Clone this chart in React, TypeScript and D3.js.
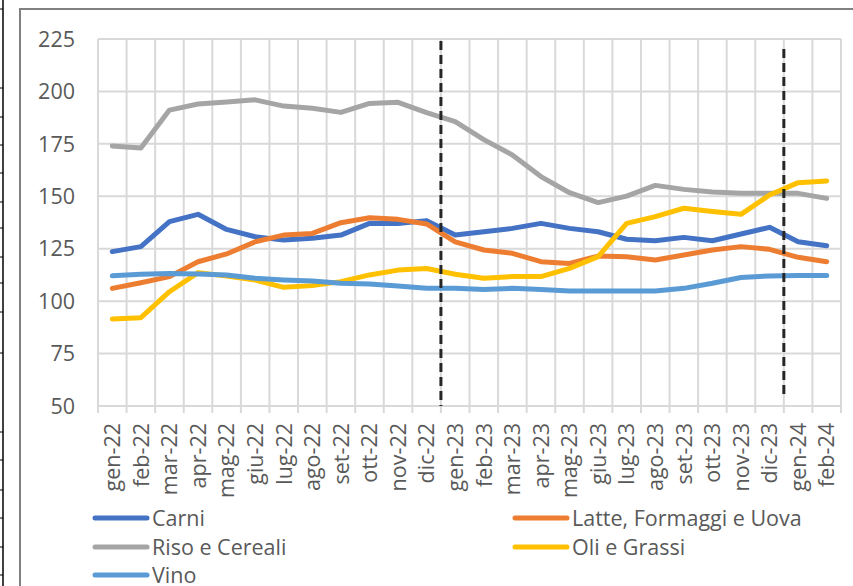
import { useEffect, useRef } from 'react'
import * as d3 from 'd3'

const months = [
  'gen-22', 'feb-22', 'mar-22', 'apr-22', 'mag-22', 'giu-22', 'lug-22', 'ago-22', 'set-22', 'ott-22', 'nov-22', 'dic-22',
  'gen-23', 'feb-23', 'mar-23', 'apr-23', 'mag-23', 'giu-23', 'lug-23', 'ago-23', 'set-23', 'ott-23', 'nov-23', 'dic-23',
  'gen-24', 'feb-24',
]

const carni = [123.6, 126, 137.9, 141.4, 134.2, 130.7, 129.1, 130, 131.5, 137.1, 137, 138.4, 131.5, 133.1, 134.7, 137.1, 134.7, 133.1, 129.5, 128.8, 130.4, 128.8, 132, 135.2, 128.3, 126.4]
const latte = [106.1, 108.8, 111.7, 118.8, 122.5, 128.3, 131.5, 132.3, 137.4, 139.8, 139, 136.8, 128.3, 124.4, 122.8, 118.8, 118, 121.5, 121.2, 119.6, 122, 124.4, 126, 124.7, 120.9, 118.8]
const riso = [174, 173, 191.1, 194, 195, 196, 193, 192, 190, 194.3, 194.8, 189.9, 185.6, 177, 169.7, 159.4, 151.7, 147, 150.1, 155.2, 153.3, 152, 151.4, 151.4, 151.4, 149]
const oli = [91.5, 92.1, 104.5, 113.6, 112, 110.1, 106.6, 107.4, 109.3, 112.5, 114.8, 115.6, 112.8, 110.9, 111.7, 111.7, 115.6, 121.2, 137.1, 140.3, 144.3, 142.7, 141.4, 150.6, 156.5, 157.3]
const vino = [112.1, 112.8, 113.2, 112.9, 112.5, 110.9, 110.1, 109.6, 108.5, 108.2, 107.2, 106.1, 106.1, 105.6, 106.1, 105.6, 104.8, 104.8, 104.8, 104.8, 106.1, 108.5, 111.3, 112, 112.2, 112.2]

const yTicks = [50, 75, 100, 125, 150, 175, 200, 225]
// dashed markers sit on the boundary after these months
const markerMonths = ['dic-22', 'dic-23']

const series = [
  { name: 'Carni', values: carni, color: '#4472C4' },
  { name: 'Latte, Formaggi e Uova', values: latte, color: '#ED7D31' },
  { name: 'Riso e Cereali', values: riso, color: '#A5A5A5' },
  { name: 'Oli e Grassi', values: oli, color: '#FFC000' },
  { name: 'Vino', values: vino, color: '#5B9BD5' },
]

const FONT = '"Open Sans", "Noto Sans", sans-serif'
const FS = '21.5px'

export default function App() {
  const ref = useRef<SVGSVGElement>(null)

  useEffect(() => {
    const W = 853
    const H = 586
    const plot = { left: 98, right: 841, top: 39, bottom: 406 }

    const svg = d3.select(ref.current)
    svg.selectAll('*').remove()

    svg.append('rect').attr('width', W).attr('height', H).attr('fill', '#fff')

    // spreadsheet cell borders on the far left
    svg.append('line').attr('x1', 3).attr('x2', 3).attr('y1', 0).attr('y2', H)
      .attr('stroke', '#000').attr('stroke-width', 1.5)
    const rowMarks = [9, 88, 117, 145, 173, 202, 228, 257, 283, 312, 353, 432, 460, 490, 518, 547, 575]
    svg.selectAll('.rowmark').data(rowMarks).join('line')
      .attr('x1', 0).attr('x2', 3).attr('y1', d => d).attr('y2', d => d)
      .attr('stroke', '#000').attr('stroke-width', 1)

    // chart frame
    svg.append('path').attr('d', `M20,${H} L20,9 L${W},9`)
      .attr('fill', 'none').attr('stroke', '#808080').attr('stroke-width', 2)

    const x = d3.scaleBand().domain(months).range([plot.left, plot.right])
    const y = d3.scaleLinear().domain([50, 225]).range([plot.bottom, plot.top])
    const cx = (m: string) => (x(m) as number) + x.bandwidth() / 2

    const grid = svg.append('g').attr('stroke', '#D9D9D9').attr('stroke-width', 2)
    grid.selectAll('line.h').data(yTicks).join('line').attr('class', 'h')
      .attr('x1', plot.left).attr('x2', plot.right)
      .attr('y1', d => y(d)).attr('y2', d => y(d))
    const bounds = [...months.map(m => x(m) as number), plot.right]
    grid.selectAll('line.v').data(bounds).join('line').attr('class', 'v')
      .attr('x1', d => d).attr('x2', d => d)
      .attr('y1', plot.top).attr('y2', plot.bottom + 7)

    // y labels
    svg.selectAll('.ylab').data(yTicks).join('text')
      .attr('x', 75).attr('y', d => y(d))
      .attr('dy', '0.36em').attr('text-anchor', 'end')
      .style('font-family', FONT).style('font-size', FS).style('fill', '#595959')
      .text(d => d)

    // x labels rotated
    svg.selectAll('.xlab').data(months).join('text')
      .attr('transform', d => `translate(${cx(d)},${plot.bottom + 17}) rotate(-90)`)
      .attr('dy', '0.36em').attr('text-anchor', 'end')
      .style('font-family', FONT).style('font-size', FS).style('fill', '#595959')
      .text(d => d)

    const line = d3.line<number>()
      .x((_, i) => cx(months[i]))
      .y(d => y(d))

    svg.selectAll('.series').data(series).join('path')
      .attr('d', d => line(d.values))
      .attr('fill', 'none').attr('stroke', d => d.color)
      .attr('stroke-width', 5).attr('stroke-linejoin', 'round').attr('stroke-linecap', 'round')

    // dashed markers
    const markerSpans = [[41, plot.bottom], [49, 396]]
    svg.selectAll('.marker').data(markerMonths).join('line')
      .attr('x1', d => (x(d) as number) + x.bandwidth()).attr('x2', d => (x(d) as number) + x.bandwidth())
      .attr('y1', (_, i) => markerSpans[i][0]).attr('y2', (_, i) => markerSpans[i][1])
      .attr('stroke', '#262626').attr('stroke-width', 3).attr('stroke-dasharray', '9,5')

    // legend
    const legendPos = [[93, 518], [513, 518], [93, 547], [513, 547], [93, 575]]
    const lg = svg.selectAll('.lg').data(series).join('g')
      .attr('transform', (_, i) => `translate(${legendPos[i][0]},${legendPos[i][1]})`)
    lg.append('line').attr('x1', 2).attr('x2', 54).attr('y1', 0).attr('y2', 0)
      .attr('stroke', d => d.color).attr('stroke-width', 5).attr('stroke-linecap', 'round')
    lg.append('text').attr('x', 59).attr('dy', '0.36em')
      .style('font-family', FONT).style('font-size', FS).style('fill', '#595959')
      .text(d => d.name)
  }, [])

  return (
    <div style={{ position: 'absolute', left: 0, top: 0 }}>
      <svg ref={ref} width={853} height={586} style={{ display: 'block' }} />
    </div>
  )
}
